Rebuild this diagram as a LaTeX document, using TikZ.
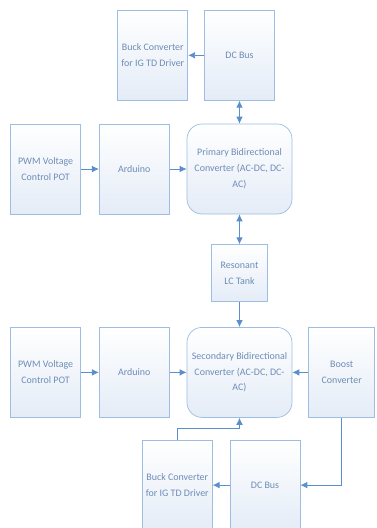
\documentclass[tikz,border=0pt]{standalone}
\usepackage{fontspec}
\setmainfont{Carlito}
\usetikzlibrary{arrows.meta,calc,positioning}
\definecolor{blockline}{HTML}{9DBDE3}
\definecolor{blockfill}{HTML}{E4ECF7}
\definecolor{blocktext}{HTML}{6E8DB6}
\definecolor{linkblue}{HTML}{5B8FCB}
\tikzset{
  blockbox/.style={
    draw=blockline,
    top color=white,
    bottom color=blockfill,
    text=blocktext,
    align=center,
    minimum width=2.1cm,
    minimum height=2.7cm,
    inner sep=2pt,
    line width=0.6pt,
    font=\fontsize{8.5}{13.5}\selectfont
  },
  convbox/.style={blockbox, minimum width=3.15cm, rounded corners=0.45cm},
  tankbox/.style={blockbox, minimum width=1.68cm, minimum height=1.71cm},
  boostbox/.style={blockbox, minimum width=1.98cm},
  arrow/.style={-{Latex[length=2.1mm,width=2mm]}, line width=0.7pt, draw=linkblue},
  duplex/.style={arrow, {Latex[length=2.1mm,width=2mm]}-{Latex[length=2.1mm,width=2mm]}}
}
\begin{document}
\begin{tikzpicture}[node distance=0.51cm and 0.51cm]
  \useasboundingbox (-7.185,5.07) rectangle (4.095,-10.77);
  % primary side
  \node[convbox] (primary) at (0,0) {Primary Bidirectional\\Converter (AC-DC, DC-\\AC)};
  \node[blockbox, left=of primary] (arduinoA) {Arduino};
  \node[blockbox, left=0.54cm of arduinoA] (pwmA) {PWM Voltage\\Control POT};
  \node[blockbox, above=0.69cm of primary] (busA) {DC Bus};
  \node[blockbox, left=0.48cm of busA] (buckA) {Buck Converter\\for IG TD Driver};
  \node[tankbox, below=0.9cm of primary] (tank) {Resonant\\LC Tank};
  % secondary side
  \node[convbox, below=0.75cm of tank] (secondary) {Secondary Bidirectional\\Converter (AC-DC, DC-\\AC)};
  \node[blockbox, left=of secondary] (arduinoB) {Arduino};
  \node[blockbox, left=0.54cm of arduinoB] (pwmB) {PWM Voltage\\Control POT};
  \node[boostbox, right=0.48cm of secondary] (boost) {Boost\\Converter};
  \node[blockbox, anchor=north] (busB) at ($(secondary.south)+(0.765cm,-0.66cm)$) {DC Bus};
  \node[blockbox, left=of busB] (buckB) {Buck Converter\\for IG TD Driver};
  % links
  \draw[arrow] (busA) -- (buckA);
  \draw[duplex] (busA) -- (primary);
  \draw[arrow] (pwmA) -- (arduinoA);
  \draw[arrow] (arduinoA) -- (primary);
  \draw[duplex] (primary) -- (tank);
  \draw[arrow] (tank) -- (secondary);
  \draw[arrow] (pwmB) -- (arduinoB);
  \draw[arrow] (arduinoB) -- (secondary);
  \draw[arrow] (boost) -- (secondary);
  \draw[arrow] (boost.south) |- (busB.east);
  \draw[arrow] (busB) -- (buckB);
  \draw[arrow] (buckB.north) -- ++(0,0.33cm) -| (secondary.south);
\end{tikzpicture}
\end{document}
